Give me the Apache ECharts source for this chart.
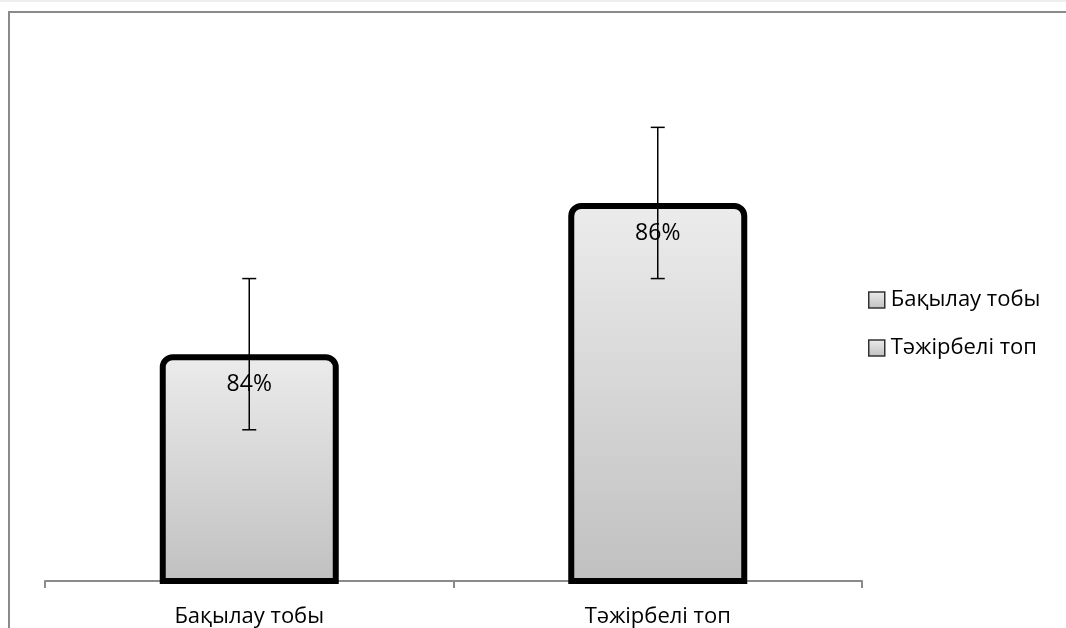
<!DOCTYPE html>
<html>
<head>
<meta charset="utf-8">
<script src="https://cdn.jsdelivr.net/npm/echarts@6/dist/echarts.min.js"></script>
<style>html,body{margin:0;padding:0;background:#fff}#c{width:1066px;height:628px}</style>
</head>
<body>
<div id="c"></div>
<script>
const categories = ['Бақылау тобы', 'Тәжірбелі топ'];
const values = [84, 86];
const errors = [1, 1];

const FONT = 'Open Sans';
const grad = new echarts.graphic.LinearGradient(0, 0, 0, 1, [
  { offset: 0, color: '#ececec' },
  { offset: 1, color: '#c0c0c0' }
]);

const barSeries = categories.map((name, i) => ({
  name: name,
  type: 'bar',
  barWidth: 179,
  barGap: '-100%',
  data: values.map((v, j) => (j === i ? v : '-')),
  itemStyle: {
    color: grad,
    borderColor: '#000',
    borderWidth: 6,
    borderRadius: [10, 10, 0, 0]
  },
  label: {
    show: true,
    position: 'insideTop',
    distance: 19,
    formatter: '{c}%',
    fontFamily: FONT,
    fontSize: 23,
    color: '#000'
  },
  z: 2
}));

const errData = values.map((v, i) => [i, v, errors[i]]);

const chart = echarts.init(document.getElementById('c'), null, { renderer: 'canvas' });
chart.setOption({
  animation: false,
  backgroundColor: '#fff',
  graphic: [
    { type: 'rect', shape: { x: 0, y: 0, width: 1066, height: 2 }, style: { fill: '#eeeeee' }, silent: true },
    { type: 'rect', shape: { x: 9, y: 12, width: 1100, height: 700 }, style: { fill: null, stroke: '#8a8a8a', lineWidth: 2 }, silent: true }
  ],
  grid: { left: 45, right: 204, top: 51.75, bottom: 46 },
  legend: {
    orient: 'vertical',
    left: 863,
    top: 283,
    itemWidth: 16,
    itemHeight: 16,
    itemGap: 24,
    icon: 'rect',
    data: categories.map(n => ({
      name: n,
      itemStyle: { color: grad, borderColor: '#333', borderWidth: 1.5, borderRadius: 0 }
    })),
    textStyle: { fontFamily: FONT, fontSize: 22, color: '#000', lineHeight: 24, padding: [0, 0, 0, 1] }
  },
  xAxis: {
    type: 'category',
    data: categories,
    axisLine: { lineStyle: { color: '#8a8a8a', width: 2 } },
    axisTick: { show: true, length: 7, lineStyle: { color: '#8a8a8a', width: 2 } },
    axisLabel: { fontFamily: FONT, fontSize: 22, color: '#000', margin: 25 }
  },
  yAxis: {
    type: 'value',
    min: 81,
    max: 88,
    show: false,
    splitLine: { show: false }
  },
  series: barSeries.concat([{
    type: 'custom',
    name: 'err',
    z: 5,
    data: errData,
    renderItem: function (params, api) {
      const x = api.value(0);
      const v = api.value(1);
      const e = api.value(2);
      const hi = api.coord([x, v + e]);
      const lo = api.coord([x, v - e]);
      const cap = 7;
      const st = { stroke: '#000', lineWidth: 1.5 };
      return {
        type: 'group',
        children: [
          { type: 'line', shape: { x1: hi[0], y1: hi[1], x2: lo[0], y2: lo[1] }, style: st },
          { type: 'line', shape: { x1: hi[0] - cap, y1: hi[1], x2: hi[0] + cap, y2: hi[1] }, style: st },
          { type: 'line', shape: { x1: lo[0] - cap, y1: lo[1], x2: lo[0] + cap, y2: lo[1] }, style: st }
        ]
      };
    }
  }])
});
</script>
</body>
</html>
